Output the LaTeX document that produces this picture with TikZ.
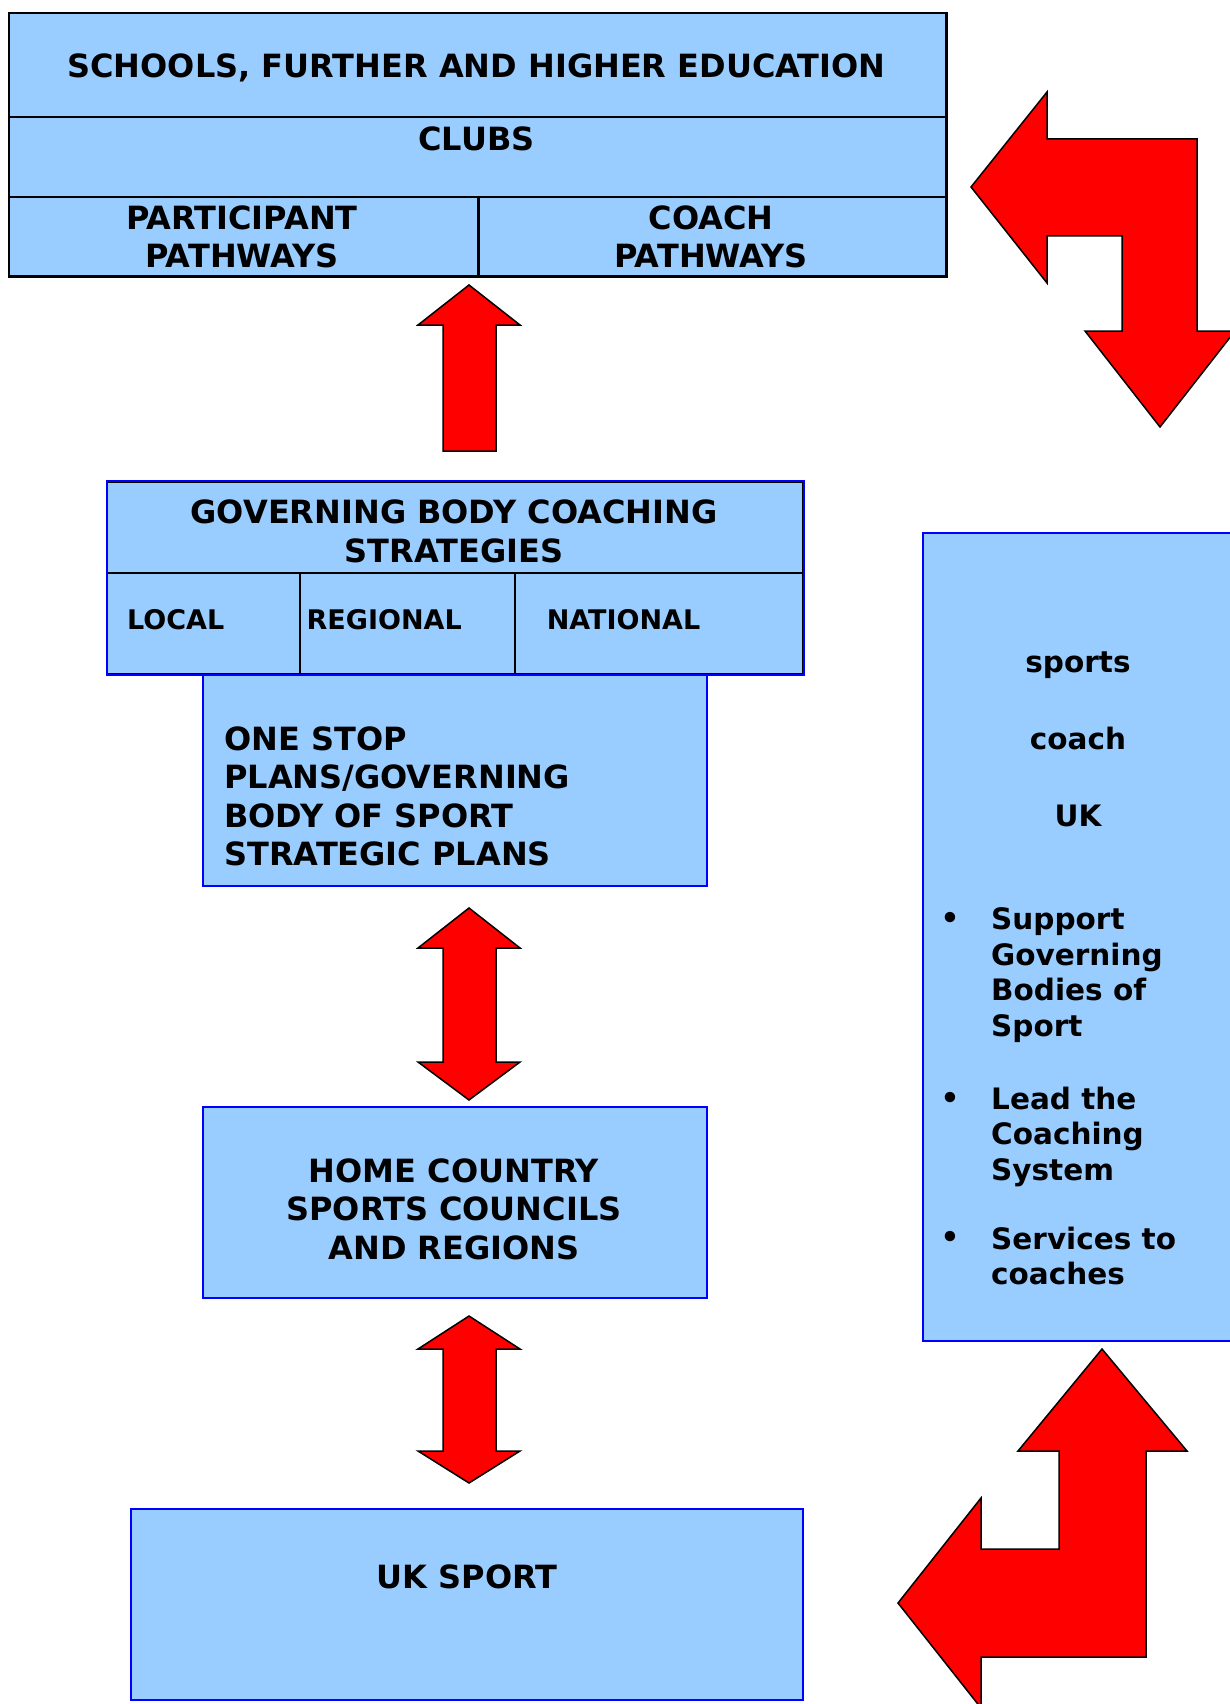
\documentclass[tikz,border=0pt]{standalone}
\usepackage{fontspec}
\setmainfont{DejaVu Sans}
\definecolor{boxblue}{HTML}{99CCFF}
\definecolor{arrowred}{HTML}{FF0000}

\begin{document}
\begin{tikzpicture}[x=1pt, y=-1pt,
topcell/.style={draw=black, line width=2.5pt, fill=boxblue, anchor=north west, inner sep=0pt},
govcell/.style={draw=black, line width=1.5pt, fill=boxblue, anchor=north west, inner sep=0pt},
bluebox/.style={draw=blue, line width=2pt, fill=boxblue, anchor=north west, inner sep=0pt},
blueframe/.style={draw=blue, line width=2pt},
captext/.style={font=\fontsize{32}{38.5}\selectfont\bfseries, inner sep=0pt},
leveltext/.style={font=\fontsize{27}{32}\selectfont\bfseries, inner sep=0pt, anchor=base west},
sidetext/.style={font=\fontsize{29.5}{35.6}\selectfont\bfseries, inner sep=0pt},
blockarrow/.style={draw=black, line width=1.5pt, fill=arrowred, line join=miter}]
\useasboundingbox (0,0) rectangle (1229,1704);

\node[topcell, minimum width=937.4pt, minimum height=104pt] (schools) at (7.6,12) {};
\node[topcell, minimum width=937.4pt, minimum height=80pt] (clubs) at (7.6,116) {};
\node[topcell, minimum width=469.4pt, minimum height=79pt] (participant) at (7.6,196) {};
\node[topcell, minimum width=468pt, minimum height=79pt] (coachpath) at (477,196) {};
\node[captext, anchor=base] (schoolstext) at (476.5,77.7) {SCHOOLS, FURTHER AND HIGHER EDUCATION};
\node[captext, anchor=base] (clubstext) at (476.5,150.7) {CLUBS};
\node[captext, align=center] (participanttext) at (242,236.75) {PARTICIPANT\\PATHWAYS};
\node[captext, align=center] (coachpathtext) at (711,236.75) {COACH\\PATHWAYS};

\node[bluebox, minimum width=504pt, minimum height=212pt] (onestop) at (202,673) {};
\node[govcell, minimum width=695.5pt, minimum height=91pt] (govtitle) at (106.5,481) {};
\node[govcell, minimum width=192.5pt, minimum height=101pt] (govlocal) at (106.5,572) {};
\node[govcell, minimum width=215pt, minimum height=101pt] (govregional) at (299,572) {};
\node[govcell, minimum width=288pt, minimum height=101pt] (govnational) at (514,572) {};
\draw[blueframe] (govtitle.north west) rectangle (govnational.south east);
\node[captext, align=center] (govtext) at (454,531.5) {GOVERNING BODY COACHING\\STRATEGIES};
\node[leveltext] (localtext) at (127,629.4) {LOCAL};
\node[leveltext] (regionaltext) at (306.5,629.4) {REGIONAL};
\node[leveltext] (nationaltext) at (546.6,629.4) {NATIONAL};
\node[captext, align=left, anchor=north west] (onestoptext) at (224,726.3) {ONE STOP\\PLANS/GOVERNING\\BODY OF SPORT\\STRATEGIC PLANS};

\node[bluebox, minimum width=504pt, minimum height=191pt] (home) at (202,1106) {};
\node[captext, align=center] (hometext) at (454,1209) {HOME COUNTRY\\SPORTS COUNCILS\\AND REGIONS};

\node[bluebox, minimum width=672pt, minimum height=191pt] (uksport) at (130,1508) {};
\node[captext, anchor=base] (uksporttext) at (467,1588.7) {UK SPORT};

\node[bluebox, minimum width=318pt, minimum height=808pt] (sportscoach) at (922,532) {};
\node[sidetext, anchor=base] (sportstext) at (1078,672.6) {sports};
\node[sidetext, anchor=base] (coachtext) at (1078,749.6) {coach};
\node[sidetext, anchor=base] (uktext) at (1078,826.6) {UK};
\node[sidetext, anchor=base] (bulleta) at (950,928.5) {•};
\node[sidetext, anchor=base] (bulletb) at (950,1108.5) {•};
\node[sidetext, anchor=base] (bulletc) at (950,1247.5) {•};
\node[sidetext, align=left, anchor=north west] (supporttext) at (991,907.5) {Support\\Governing\\Bodies of\\Sport};
\node[sidetext, align=left, anchor=north west] (leadtext) at (991,1086.5) {Lead the\\Coaching\\System};
\node[sidetext, align=left, anchor=north west] (servicestext) at (991,1226.5) {Services to\\coaches};

\draw[blockarrow] (469,285) -- (520,325) -- (496,325) -- (496,451) -- (443,451) -- (443,325) -- (418,325) -- cycle;
\draw[blockarrow] (469,908) -- (520,948) -- (496,948) -- (496,1062) -- (520,1062) -- (469,1100) -- (418,1062) -- (443,1062) -- (443,948) -- (418,948) -- cycle;
\draw[blockarrow] (469,1316) -- (520,1349) -- (496,1349) -- (496,1451) -- (520,1451) -- (469,1483) -- (418,1451) -- (443,1451) -- (443,1349) -- (418,1349) -- cycle;
\draw[blockarrow] (971,187) -- (1047,92) -- (1047,139) -- (1197,139) -- (1197,331) -- (1235,331) -- (1160,427) -- (1085,331) -- (1122,331) -- (1122,236) -- (1047,236) -- (1047,283) -- cycle;
\draw[blockarrow] (1102,1349) -- (1187,1451) -- (1146,1451) -- (1146,1657) -- (981,1657) -- (981,1708) -- (898,1603) -- (981,1498) -- (981,1549) -- (1059,1549) -- (1059,1451) -- (1018,1451) -- cycle;
\end{tikzpicture}
\end{document}
